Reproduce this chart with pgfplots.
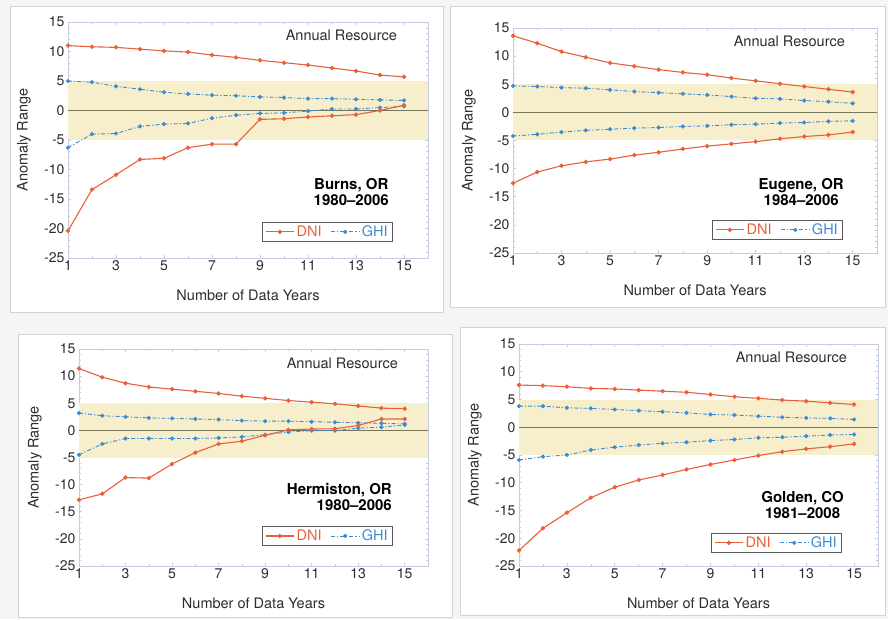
\documentclass[border=0pt]{standalone}
\usepackage{pgfplots}
\pgfplotsset{compat=1.18}
\usepackage{pgfplotstable}
\usepackage{fontspec}
\setmainfont{TeX Gyre Heros}
\definecolor{dni}{RGB}{232,96,60}
\definecolor{ghi}{RGB}{59,139,212}
\definecolor{band}{RGB}{247,239,204}
\definecolor{zeroc}{RGB}{118,118,90}
\definecolor{framec}{RGB}{196,204,224}
\definecolor{txt}{RGB}{45,45,45}
\definecolor{legc}{RGB}{90,90,90}
\definecolor{panelc}{RGB}{212,212,212}
\definecolor{bgc}{RGB}{245,245,245}

% x: number of data years; du/dl: DNI upper/lower; gu/gl: GHI upper/lower
\pgfplotstableread{
x du gu gl dl
1 11.0 5.0 -6.3 -20.4
2 10.8 4.8 -4.0 -13.4
3 10.7 4.1 -3.9 -10.9
4 10.4 3.6 -2.7 -8.3
5 10.1 3.1 -2.3 -8.1
6 9.9 2.8 -2.2 -6.3
7 9.4 2.6 -1.3 -5.7
8 9.0 2.5 -0.8 -5.7
9 8.5 2.3 -0.5 -1.5
10 8.1 2.2 -0.4 -1.4
11 7.7 2.0 -0.1 -1.1
12 7.2 2.0 0.25 -0.9
13 6.7 1.9 0.25 -0.7
14 6.0 1.8 0.5 0.0
15 5.7 1.7 0.7 0.9
}\burns
\pgfplotstableread{
x du gu gl dl
1 13.6 4.7 -4.2 -12.6
2 12.3 4.6 -3.9 -10.6
3 10.8 4.4 -3.5 -9.5
4 9.8 4.3 -3.2 -8.8
5 8.8 4.0 -3.0 -8.3
6 8.2 3.7 -2.8 -7.6
7 7.6 3.5 -2.7 -7.1
8 7.1 3.3 -2.5 -6.5
9 6.7 3.1 -2.4 -6.0
10 6.1 2.8 -2.2 -5.6
11 5.6 2.5 -2.1 -5.2
12 5.1 2.4 -1.9 -4.7
13 4.6 2.1 -1.8 -4.3
14 4.1 1.9 -1.6 -4.0
15 3.6 1.6 -1.5 -3.5
}\eugene
\pgfplotstableread{
x du gu gl dl
1 11.4 3.2 -4.5 -12.8
2 9.8 2.7 -2.5 -11.7
3 8.7 2.5 -1.5 -8.7
4 8.0 2.3 -1.5 -8.8
5 7.6 2.2 -1.5 -6.2
6 7.2 2.1 -1.5 -4.1
7 6.8 2.0 -1.4 -2.5
8 6.3 1.8 -1.2 -2.0
9 5.9 1.7 -0.8 -0.9
10 5.5 1.7 -0.3 0.1
11 5.2 1.6 -0.05 0.25
12 4.9 1.5 -0.05 0.3
13 4.5 1.4 0.4 0.9
14 4.1 1.3 0.6 2.1
15 4.0 1.2 1.0 2.1
}\hermiston
\pgfplotstableread{
x du gu gl dl
1 7.6 3.8 -5.9 -22.2
2 7.5 3.8 -5.3 -18.2
3 7.3 3.5 -5.0 -15.4
4 7.0 3.4 -4.1 -12.7
5 6.9 3.2 -3.6 -10.8
6 6.7 3.0 -3.2 -9.5
7 6.5 2.8 -2.9 -8.6
8 6.3 2.6 -2.7 -7.6
9 5.9 2.3 -2.4 -6.7
10 5.5 2.2 -2.2 -5.9
11 5.2 2.0 -1.9 -5.1
12 4.9 1.8 -1.8 -4.4
13 4.7 1.7 -1.6 -3.9
14 4.4 1.6 -1.4 -3.5
15 4.1 1.4 -1.3 -3.0
}\golden

\pgfplotsset{
  panel/.style={
    scale only axis, anchor=south west, clip=false,
    xmin=1, xmax=16, ymin=-25, ymax=15,
    xtick={1,3,...,15}, minor xtick={2,4,...,16},
    ytick={-25,-20,...,15}, minor y tick num=4,
    axis line style={draw=framec, line width=0.7pt},
    tick style={draw=framec, line width=0.6pt},
    major tick length=3pt, minor tick length=2pt,
    /pgf/number format/assume math mode=true,
    tick label style={font=\fontsize{14}{14}\selectfont, text=txt},
    xticklabel style={yshift=1pt},
    xlabel={Number of Data Years}, ylabel={Anomaly Range},
    every axis x label/.style={at={(axis description cs:0.5,0)}, anchor=center, yshift=-37pt, font=\fontsize{14.5}{16}\selectfont, text=txt},
    every axis y label/.style={at={(axis description cs:0,0.5)}, xshift=-44pt, rotate=90, anchor=center, font=\fontsize{14.5}{16}\selectfont, text=txt},
    legend columns=2,
    legend style={draw=legc, line width=0.8pt, fill=white, anchor=south east,
      font=\fontsize{14.5}{16}\selectfont, inner xsep=3pt, inner ysep=1.5pt,
      /tikz/every even column/.append style={column sep=7pt}},
    legend image code/.code={\draw[mark repeat=2,mark phase=2,##1] plot coordinates {(0cm,0cm) (0.5cm,0cm) (1cm,0cm)};},
  },
  dniS/.style={color=dni, line width=1.1pt, mark=*, mark size=1.6pt, mark options={solid}},
  ghiS/.style={color=ghi, line width=0.9pt, dash pattern=on 4pt off 2pt on 1.2pt off 2pt, mark=*, mark size=1.6pt, mark options={solid}},
  bandS/.style={fill=band, draw=none, forget plot},
  zeroS/.style={color=zeroc, line width=1.2pt, forget plot},
}

\newcommand{\panelplots}[1]{%
  \addplot[bandS] coordinates {(1,-5) (16,-5) (16,5) (1,5)} -- cycle;
  \addplot[zeroS] coordinates {(1,0) (16,0)};
  \addplot[dniS] table[x=x,y=du] {#1};
  \addlegendentry{\textcolor{dni}{DNI}}
  \addplot[ghiS] table[x=x,y=gu] {#1};
  \addlegendentry{\textcolor{ghi}{GHI}}
  \addplot[ghiS, forget plot] table[x=x,y=gl] {#1};
  \addplot[dniS, forget plot] table[x=x,y=dl] {#1};
}

\begin{document}
\begin{tikzpicture}[x=1pt,y=1pt]
\fill[bgc] (0,0) rectangle (888,619);
\draw[panelc, fill=white, line width=1pt] (10,306) rectangle (443,612);
\draw[panelc, fill=white, line width=1pt] (450,311) rectangle (885,612);
\draw[panelc, fill=white, line width=1pt] (18,2) rectangle (452,284);
\draw[panelc, fill=white, line width=1pt] (460,4) rectangle (885,291);

\begin{axis}[panel, at={(68pt,361pt)}, width=360pt, height=236pt,
  legend style={at={(0.903,0.068)}}]
\panelplots{\burns}
\end{axis}

\begin{axis}[panel, at={(513pt,366pt)}, width=364pt, height=225pt,
  legend style={at={(0.907,0.058)}}]
\panelplots{\eugene}
\end{axis}

\begin{axis}[panel, at={(79pt,53pt)}, width=349pt, height=217pt,
  legend style={at={(0.90,0.092)}}]
\panelplots{\hermiston}
\end{axis}

\begin{axis}[panel, at={(519pt,53pt)}, width=359pt, height=222pt,
  legend style={at={(0.90,0.059)}}]
\panelplots{\golden}
\end{axis}

\tikzset{ar/.style={anchor=north east, inner sep=0pt, font=\fontsize{14.5}{16}\selectfont, text=txt},
         ttl/.style={anchor=north east, inner sep=0pt, font=\fontsize{15}{16}\selectfont\bfseries, text=black}}
\node[ar] at (397,589) {Annual Resource};
\node[ttl, align=center] at (389,441) {Burns, OR\\1980–2006};
\node[ar] at (845,583) {Annual Resource};
\node[ttl, align=center] at (844,441) {Eugene, OR\\1984–2006};
\node[ar] at (398,261) {Annual Resource};
\node[ttl, align=right] at (392,136) {Hermiston, OR\\1980–2006};
\node[ar] at (847,267) {Annual Resource};
\node[ttl, align=center] at (844,128) {Golden, CO\\1981–2008};
\end{tikzpicture}
\end{document}
